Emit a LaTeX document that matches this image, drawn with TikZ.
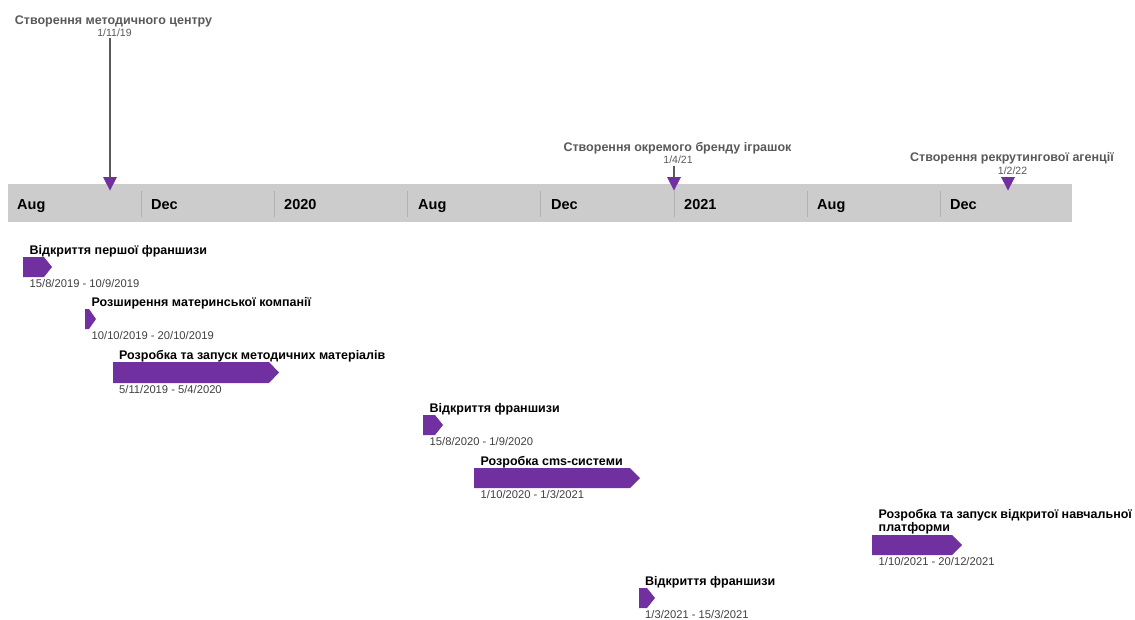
\documentclass[tikz,border=0pt]{standalone}
\usepackage{fontspec}
\setmainfont{Liberation Sans}
\definecolor{barpurple}{HTML}{7030A0}
\definecolor{bandgray}{HTML}{CCCCCC}
\definecolor{divgray}{HTML}{B2B2B2}
\definecolor{msgray}{HTML}{595959}
\definecolor{dategray}{HTML}{404040}

\begin{document}
\begin{tikzpicture}[x=1pt, y=-1pt,
        month/.style={anchor=base west, inner sep=0pt, font=\fontsize{14.5}{17}\selectfont\bfseries},
        mslabel/.style={anchor=base, inner sep=0pt, text=msgray, font=\fontsize{12.5}{14}\selectfont\bfseries},
        msdate/.style={anchor=base, inner sep=0pt, text=msgray, font=\fontsize{10.5}{12}\selectfont},
        msline/.style={draw=msgray, line width=1.6pt},
        tasklabel/.style={anchor=base west, inner sep=0pt, align=left, font=\fontsize{12.5}{13.8}\selectfont\bfseries},
        taskdate/.style={anchor=base west, inner sep=0pt, text=dategray, font=\fontsize{11.2}{13}\selectfont}]
    \useasboundingbox (0,0) rectangle (1135,619);
    \fill[bandgray] (8,184) rectangle (1072,222);
    \foreach \x in {141.2, 274.4, 407.6, 540.8, 674, 807.2, 940.4}
        \draw[divgray, line width=1pt] (\x,191) -- (\x,217);
    \foreach \x/\m [count=\i] in {17/Aug, 151/Dec, 284/2020, 418/Aug, 551/Dec, 684/2021, 817/Aug, 950/Dec}
        \node[month] (mon\i) at (\x,209) {\m};

    \node[mslabel] (m1lab) at (113.5,24) {Створення методичного центру};
    \node[msdate] (m1date) at (114.5,36) {1/11/19};
    \coordinate (m1top) at (110,177);
    \draw[msline] (m1date.south -| m1top) ++(0,2) -- (m1top);
    \fill[barpurple] (m1top) -- ++(7,0) -- ++(-7,13.5) -- ++(-7,-13.5) -- cycle;

    \node[mslabel] (m2lab) at (677.5,151.5) {Створення окремого бренду іграшок};
    \node[msdate] (m2date) at (678,163) {1/4/21};
    \coordinate (m2top) at (674,177);
    \draw[msline] (m2date.south -| m2top) ++(0,3) -- (m2top);
    \fill[barpurple] (m2top) -- ++(7,0) -- ++(-7,13.5) -- ++(-7,-13.5) -- cycle;

    \node[mslabel] (m3lab) at (1012,161.5) {Створення рекрутингової агенції};
    \node[msdate] (m3date) at (1012.5,174) {1/2/22};
    \coordinate (m3top) at (1008,177);
    \fill[barpurple] (m3top) -- ++(7,0) -- ++(-7,13.5) -- ++(-7,-13.5) -- cycle;

    \fill[barpurple] (23,257) -- (44,257) -- (52,267) -- (44,277) -- (23,277) -- cycle;
    \node[tasklabel] (t1lab) at (29.5,254) {Відкриття першої франшизи};
    \node[taskdate] (t1date) at (29.5,287) {15/8/2019 - 10/9/2019};

    \fill[barpurple] (85,309) -- (89,309) -- (96,319) -- (89,329) -- (85,329) -- cycle;
    \node[tasklabel] (t2lab) at (91.5,306.5) {Розширення материнської компанії};
    \node[taskdate] (t2date) at (91.5,339.5) {10/10/2019 - 20/10/2019};

    \fill[barpurple] (113,362) -- (269,362) -- (279,372.5) -- (269,383) -- (113,383) -- cycle;
    \node[tasklabel] (t3lab) at (119,359.5) {Розробка та запуск методичних матеріалів};
    \node[taskdate] (t3date) at (119,393) {5/11/2019 - 5/4/2020};

    \fill[barpurple] (423,415) -- (435,415) -- (443,425) -- (435,435) -- (423,435) -- cycle;
    \node[tasklabel] (t4lab) at (429.5,412) {Відкриття франшизи};
    \node[taskdate] (t4date) at (429.5,445.5) {15/8/2020 - 1/9/2020};

    \fill[barpurple] (474,468) -- (630,468) -- (640,478) -- (630,488) -- (474,488) -- cycle;
    \node[tasklabel] (t5lab) at (480.5,465) {Розробка cms-системи};
    \node[taskdate] (t5date) at (480.5,498.5) {1/10/2020 - 1/3/2021};

    \fill[barpurple] (872,535) -- (952,535) -- (962,545) -- (952,555) -- (872,555) -- cycle;
    \node[tasklabel] (t6lab) at (878.5,531.8) {Розробка та запуск відкритої навчальної\\платформи};
    \node[taskdate] (t6date) at (878.5,565) {1/10/2021 - 20/12/2021};

    \fill[barpurple] (639,588) -- (647,588) -- (655,598) -- (647,608) -- (639,608) -- cycle;
    \node[tasklabel] (t7lab) at (645,585) {Відкриття франшизи};
    \node[taskdate] (t7date) at (645,618) {1/3/2021 - 15/3/2021};
\end{tikzpicture}
\end{document}
